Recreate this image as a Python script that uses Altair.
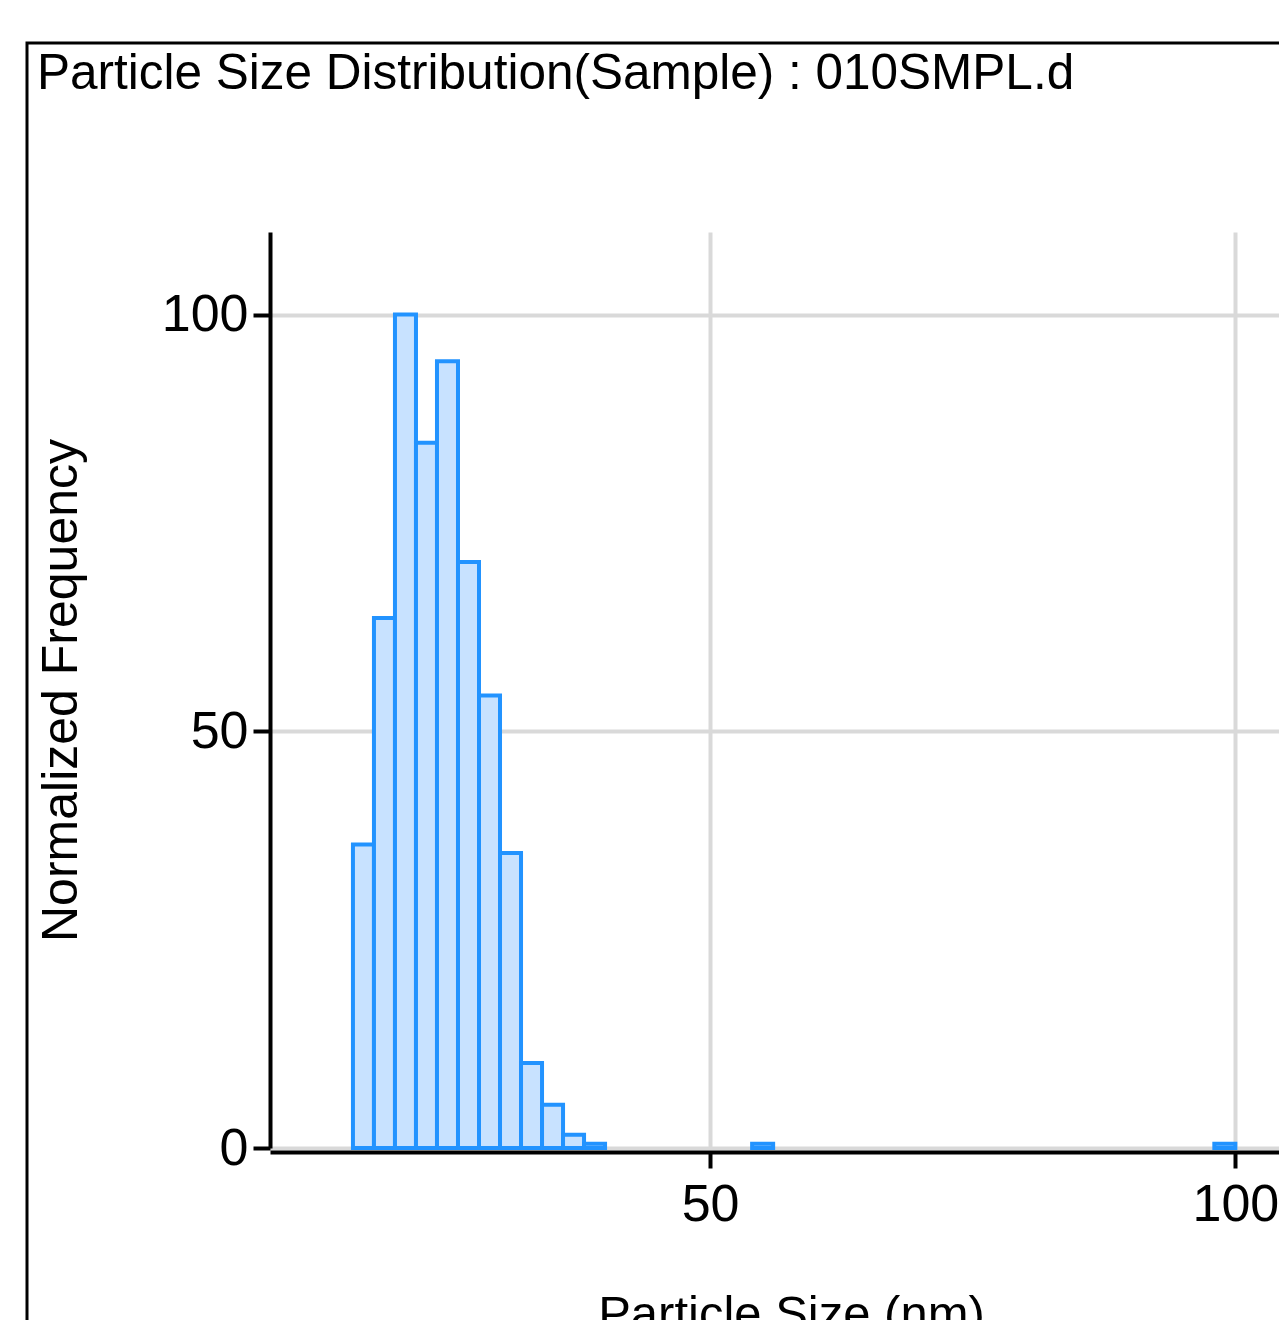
import altair as alt
import pandas as pd

# ---- data ----
bin_start = [16, 18, 20, 22, 24, 26, 28, 30, 32, 34, 36, 38, 54, 98]
bin_end = [18, 20, 22, 24, 26, 28, 30, 32, 34, 36, 38, 40, 56, 100]
frequency = [36.4, 63.6, 100, 84.6, 94.4, 70.3, 54.3, 35.4, 10.2, 5.2, 1.6, 0.5, 0.5, 0.5]
x_ticks = [50, 100]
y_ticks = [0, 50, 100]
title_text = "Particle Size Distribution(Sample) : 010SMPL.d"
x_title = "Particle Size (nm)"
y_title = "Normalized Frequency"

df = pd.DataFrame({"start": bin_start, "end": bin_end, "freq": frequency})

FONT = "Liberation Sans"

x_scale = alt.Scale(domain=[8.58, 103.68], nice=False, zero=False)
y_scale = alt.Scale(domain=[0, 109.9], nice=False)

x_axis = alt.Axis(
    values=x_ticks, title=x_title, format="d",
    domainColor="#000", domainWidth=4, offset=4,
    tickColor="#000", tickWidth=4, tickSize=16,
    gridColor="#d9d9d9", gridWidth=4,
    labelFont=FONT, labelFontSize=52, labelColor="#000", labelPadding=11,
    titleFont=FONT, titleFontSize=49, titleFontWeight="normal", titleColor="#000",
    titlePadding=60, titleX=521, titleAlign="center",
)
y_axis = alt.Axis(
    values=y_ticks, title=y_title, format="d",
    domainColor="#000", domainWidth=4,
    tickColor="#000", tickWidth=4, tickSize=17,
    gridColor="#d9d9d9", gridWidth=4,
    labelFont=FONT, labelFontSize=52, labelColor="#000", labelPadding=5,
    titleFont=FONT, titleFontSize=50, titleFontWeight="normal", titleColor="#000",
    titlePadding=75,
)

bars = alt.Chart(df).mark_bar(
    fill="#c8e2ff", stroke="#2293ff", strokeWidth=4, orient="vertical"
).encode(
    x=alt.X("start:Q", scale=x_scale, axis=x_axis),
    x2="end:Q",
    y=alt.Y("freq:Q", scale=y_scale, axis=y_axis),
    y2=alt.datum(0),
)

frame = alt.Chart(alt.Data(values=[{"k": 1}])).mark_rect(
    fillOpacity=0, stroke="#000", strokeWidth=3
).encode(
    x=alt.value(-243), x2=alt.value(3000),
    y=alt.value(-189), y2=alt.value(3000),
)

chart = alt.layer(bars, frame).properties(
    width=1009,
    height=916,
    title=alt.TitleParams(
        text=title_text, anchor="start", frame="group",
        font=FONT, fontSize=49.5, fontWeight="normal", color="#000",
        baseline="alphabetic", offset=0, dx=-233, dy=97,
    ),
    autosize=alt.AutoSizeParams(type="none"),
    padding={"left": 262, "top": 224, "right": 0, "bottom": 172},
).configure_view(stroke=None)

chart.save("out.html", embed_options={"renderer": "svg", "actions": False})
